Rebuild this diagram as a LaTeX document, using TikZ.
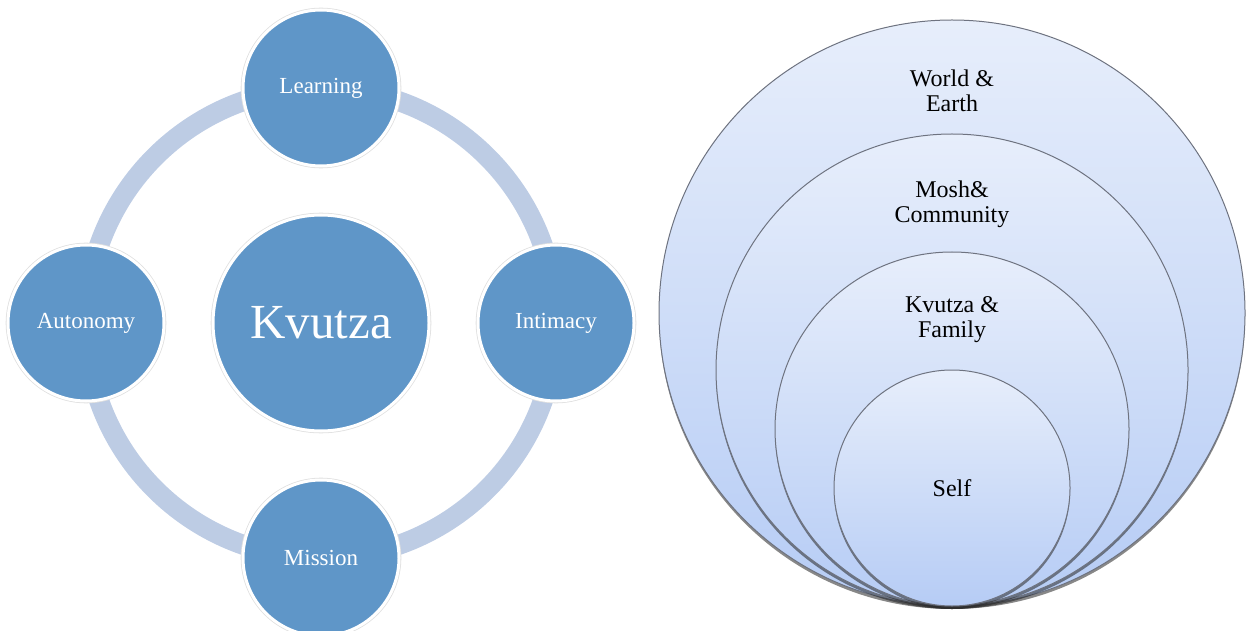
\documentclass[tikz,border=0pt]{standalone}
\usepackage{fontspec}
\usepackage{tikz}
\usepackage{xcolor}
\usetikzlibrary{shapes,positioning,shadows,calc}
\setmainfont{Liberation Serif}
\definecolor{kvutzablue}{RGB}{95, 150, 200}
\definecolor{ringblue}{RGB}{189, 204, 228}
\definecolor{layertop}{RGB}{231, 238, 251}
\definecolor{layerbottom}{RGB}{182, 204, 245}
\definecolor{layerline}{RGB}{110, 115, 128}

\begin{document}
\begin{tikzpicture}[
    x=1pt, y=1pt,
    every node/.style={align=center},
    value/.style={circle, minimum size=156pt, inner sep=0pt, fill=kvutzablue, draw=white, line width=3pt,
        preaction={draw=black!12, line width=4.6pt}, text=white, font=\fontsize{23}{27}\selectfont},
    core/.style={value, minimum size=216pt, font=\fontsize{49}{55}\selectfont},
    ring/.style={draw=ringblue, line width=20pt},
    layer/.style={circle, inner sep=0pt, draw=layerline, line width=1pt, top color=layertop, bottom color=layerbottom,
        drop shadow={shadow xshift=0pt, shadow yshift=-3pt, opacity=0.55, fill=black!85}},
    tag/.style={font=\fontsize{24}{25}\selectfont, inner sep=0pt}
]
\clip (0,0) rectangle (1246,630);

% Values round the kvutza
\node[core] (kvutza) at (321,307) {Kvutza};
\draw[ring] (kvutza) circle[radius=235];
\node[value, above of=kvutza, node distance=235pt] (learning) {Learning};
\node[value, right of=kvutza, node distance=235pt] (intimacy) {Intimacy};
\node[value, below of=kvutza, node distance=235pt] (mission) {Mission};
\node[value, left of=kvutza, node distance=235pt] (autonomy) {Autonomy};

% Circles of belonging, all touching at the bottom
\node[layer, minimum size=586pt] (world) at (952,317) {};
\node[layer, minimum size=472pt, anchor=south] (mosh) at (world.south) {};
\node[layer, minimum size=354pt, anchor=south] (family) at (world.south) {};
\node[layer, minimum size=236pt, anchor=south] (self) at (world.south) {};

% Labels
\node[tag] (worldtag) at ([yshift=-71pt]world.north) {World \&\\Earth};
\node[tag] (moshtag) at ([yshift=-71pt]mosh.north) {Mosh\&\\Community};
\node[tag] (familytag) at ([yshift=-68pt]family.north) {Kvutza \&\\Family};
\node[tag] (selftag) at (self) {Self};

\end{tikzpicture}
\end{document}
